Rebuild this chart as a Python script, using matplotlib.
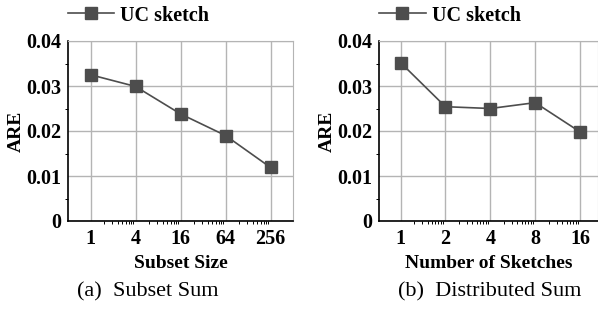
import numpy as np
import matplotlib
matplotlib.use("Agg")
import matplotlib.pyplot as plt

plt.rcParams['font.family'] = ['Liberation Serif', 'DejaVu Serif']

# data
subset_labels = ["1", "4", "16", "64", "256"]
subset_are = [0.0325, 0.0299, 0.0238, 0.0190, 0.0119]

sketch_labels = ["1", "2", "4", "8", "16"]
sketch_are = [0.0352, 0.0254, 0.0250, 0.0263, 0.0198]

panels = [
    (subset_labels, subset_are, "Subset Size", "(a)  Subset Sum",
     [68 / 598, 90 / 311, 225 / 598, 180 / 311], (-0.5, 4.5), 148 / 598),
    (sketch_labels, sketch_are, "Number of Sketches", "(b)  Distributed Sum",
     [379 / 598, 90 / 311, 219 / 598, 180 / 311], (-0.48, 4.4), 490 / 598),
]

line_color = "#4d4d4d"
grid_color = "#b4b4b4"

fig = plt.figure(figsize=(5.98, 3.11), dpi=100)

for labels, vals, xlabel, caption, rect, xlim, cap_x in panels:
    ax = fig.add_axes(rect)
    x = np.arange(len(labels))
    ax.plot(x, vals, color=line_color, lw=1.2, marker='s', markersize=9,
            markerfacecolor=line_color, markeredgecolor=line_color,
            label="UC sketch", zorder=3)
    ax.set_xlim(*xlim)
    ax.set_ylim(0, 0.04)
    ax.set_xticks(x)
    ax.set_xticklabels(labels)
    ax.set_yticks([0, 0.01, 0.02, 0.03, 0.04])
    ax.set_yticklabels(["0", "0.01", "0.02", "0.03", "0.04"])
    # log-looking minor ticks between the categories
    minor = [i + np.log10(k) for i in range(len(labels) - 1) for k in range(2, 10)]
    ax.set_xticks(minor, minor=True)
    ax.set_yticks(np.arange(0.005, 0.04, 0.01), minor=True)
    ax.tick_params(axis='both', which='major', length=0, labelsize=14.5)
    ax.tick_params(axis='x', which='major', pad=6)
    ax.tick_params(axis='y', which='major', pad=5)
    ax.tick_params(axis='both', which='minor', length=2.5, width=0.7, direction='out')
    for t in ax.get_xticklabels() + ax.get_yticklabels():
        t.set_fontweight('bold')
    ax.grid(True, which='major', color=grid_color, lw=1.0)
    ax.set_axisbelow(True)
    for side in ['top', 'right']:
        ax.spines[side].set_color(grid_color)
    ax.spines['left'].set_linewidth(1.2)
    ax.spines['bottom'].set_linewidth(1.2)
    ax.set_xlabel(xlabel, fontsize=14, fontweight='bold', labelpad=4)
    ax.set_ylabel("ARE", fontsize=14, fontweight='bold', labelpad=0.5)
    ax.legend(loc='lower left', bbox_to_anchor=(-0.045, 1.03), frameon=False,
              borderaxespad=0.1, handlelength=2.3, handletextpad=0.3,
              prop={'size': 14.5, 'weight': 'bold'})
    fig.text(cap_x, 1 - 292 / 311, caption, ha='center', va='center',
             fontsize=16)

fig.savefig("out.png", dpi=100)
